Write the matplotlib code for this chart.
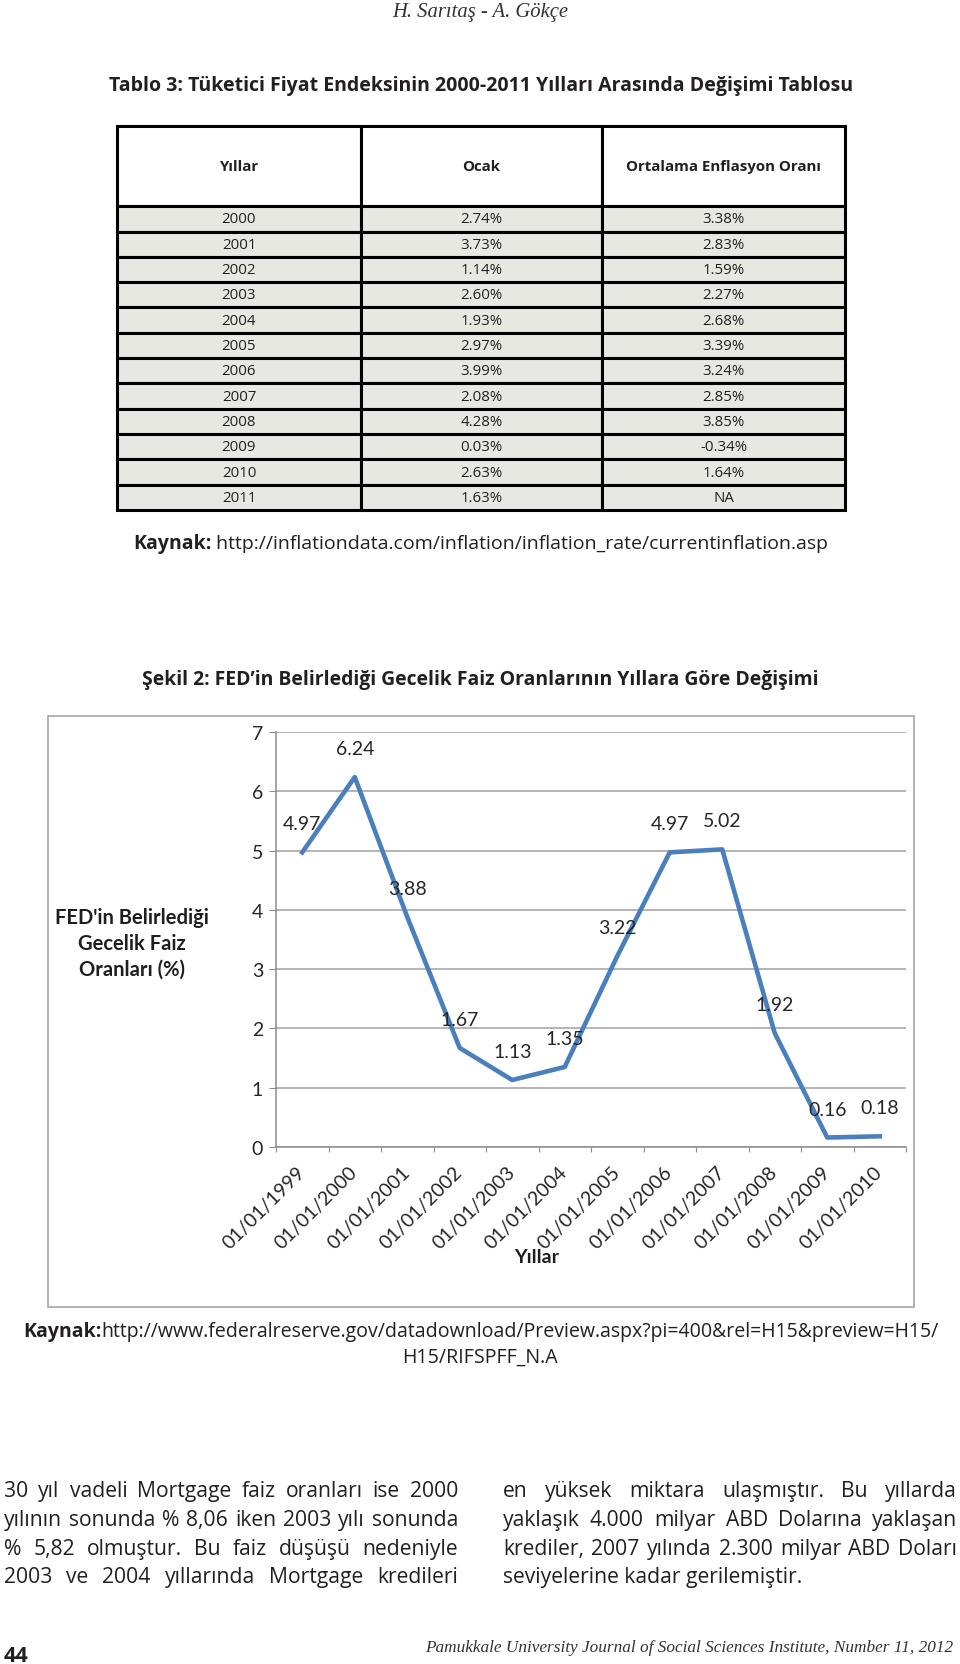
import matplotlib
matplotlib.use("Agg")
import matplotlib.pyplot as plt
from matplotlib.patches import Rectangle

# table 3 data
years = ["2000", "2001", "2002", "2003", "2004", "2005",
         "2006", "2007", "2008", "2009", "2010", "2011"]
ocak = ["2.74%", "3.73%", "1.14%", "2.60%", "1.93%", "2.97%",
        "3.99%", "2.08%", "4.28%", "0.03%", "2.63%", "1.63%"]
ortalama = ["3.38%", "2.83%", "1.59%", "2.27%", "2.68%", "3.39%",
            "3.24%", "2.85%", "3.85%", "-0.34%", "1.64%", "NA"]
headers = ["Yıllar", "Ocak", "Ortalama Enflasyon Oranı"]

# figure 2 data (FED overnight rates)
fed_dates = ["01/01/1999", "01/01/2000", "01/01/2001", "01/01/2002",
             "01/01/2003", "01/01/2004", "01/01/2005", "01/01/2006",
             "01/01/2007", "01/01/2008", "01/01/2009", "01/01/2010"]
fed_rates = [4.97, 6.24, 3.88, 1.67, 1.13, 1.35, 3.22, 4.97, 5.02, 1.92, 0.16, 0.18]

left_col = ["30 yıl vadeli Mortgage faiz oranları ise 2000",
            "yılının sonunda % 8,06 iken 2003 yılı sonunda",
            "% 5,82 olmuştur. Bu faiz düşüşü nedeniyle",
            "2003 ve 2004 yıllarında Mortgage kredileri"]
right_col = ["en yüksek miktara ulaşmıştır. Bu yıllarda",
             "yaklaşık 4.000 milyar ABD Dolarına yaklaşan",
             "krediler, 2007 yılında 2.300 milyar ABD Doları",
             "seviyelerine kadar gerilemiştir."]

SANS = ["Open Sans", "DejaVu Sans"]
SERIF = ["Liberation Serif", "DejaVu Serif"]
CHART = ["Lato", "DejaVu Sans"]
INK = "#231f20"
CHART_INK = "#262626"

W, H = 960, 1665
fig = plt.figure(figsize=(W / 100, H / 100), dpi=100)
pg = fig.add_axes([0, 0, 1, 1])
pg.set_xlim(0, W)
pg.set_ylim(H, 0)
pg.axis("off")
rend = fig.canvas.get_renderer()


def width(t):
    return t.get_window_extent(rend).width


def fit_text(x0, x1, y, s, **kw):
    t = pg.text(x0, y, s, fontsize=10, va="baseline", **kw)
    t.set_fontsize(10 * (x1 - x0) / width(t))
    return t


def fit_pair(x0, x1, y, bold_s, reg_s, family):
    a = pg.text(x0, y, bold_s, fontsize=10, va="baseline", family=family,
                fontweight="bold", color=INK)
    b = pg.text(x0, y, reg_s, fontsize=10, va="baseline", family=family, color=INK)
    fs = 10 * (x1 - x0) / (width(a) + width(b))
    a.set_fontsize(fs)
    b.set_fontsize(fs)
    b.set_x(x0 + width(a))


def justify(x0, x1, y, line, fs):
    words = line.split()
    ts = [pg.text(x0, y, w, fontsize=fs, va="baseline", family=SANS, color=INK)
          for w in words]
    ws = [width(t) for t in ts]
    gap = (x1 - x0 - sum(ws)) / (len(words) - 1)
    x = x0
    for t, w in zip(ts, ws):
        t.set_x(x)
        x += w + gap


# page header and titles
fit_text(392, 568, 17, "H. Sarıtaş - A. Gökçe", family=SERIF, style="italic", color="#333333")
fit_text(109, 852, 91, "Tablo 3: Tüketici Fiyat Endeksinin 2000-2011 Yılları Arasında Değişimi Tablosu",
         family=SANS, fontweight="bold", color=INK)

# table 3
tax = fig.add_axes([117 / W, 1 - 511 / H, 728 / W, 384 / H])
tax.axis("off")
cell_text = [[y, o, e] for y, o, e in zip(years, ocak, ortalama)]
tbl = tax.table(cellText=cell_text, colLabels=headers, cellLoc="center",
                colWidths=[244, 241, 243], bbox=[0, 0, 1, 1])
tbl.auto_set_font_size(False)
for (r, c), cell in tbl.get_celld().items():
    cell.set_linewidth(2.2)
    cell.set_edgecolor("black")
    txt = cell.get_text()
    txt.set_fontsize(10.8)
    txt.set_fontfamily(SANS)
    txt.set_color(INK)
    if r == 0:
        cell.set_height(80)
        cell.set_facecolor("white")
        txt.set_fontweight("bold")
    else:
        cell.set_height(25.25)
        cell.set_facecolor("#e8e8e2")

fit_pair(133, 829, 549, "Kaynak:",
         " http://inflationdata.com/inflation/inflation_rate/currentinflation.asp", SANS)

fit_text(142, 821, 685, "Şekil 2: FED’in Belirlediği Gecelik Faiz Oranlarının Yıllara Göre Değişimi",
         family=SANS, fontweight="bold", color=INK)

# chart frame
pg.add_patch(Rectangle((48, 717), 866, 591, facecolor="white", edgecolor="#a6a6a6", lw=1.2))

ax = fig.add_axes([276 / W, 1 - 1148 / H, 630 / W, 415 / H])
ax.set_facecolor("none")
xs = [i + 0.5 for i in range(len(fed_rates))]
ax.plot(xs, fed_rates, color="#4a7fbd", lw=3.3, solid_joinstyle="round", zorder=3)
for x, v in zip(xs, fed_rates):
    ax.annotate(f"{v:.2f}", (x, v), xytext=(0, 20.5), textcoords="offset points",
                ha="center", va="center", fontsize=14, family=CHART, color=CHART_INK, zorder=4)

ax.set_xlim(0, len(fed_rates))
ax.set_ylim(0, 7)
ax.set_yticks(range(0, 8))
ax.yaxis.grid(True, color="#a0a0a0", lw=1.1)
ax.set_axisbelow(True)
for s in ["top", "right"]:
    ax.spines[s].set_visible(False)
for s in ["left", "bottom"]:
    ax.spines[s].set_color("#8c8c8c")
    ax.spines[s].set_linewidth(1.1)
ax.set_xticks(range(0, len(fed_rates) + 1))
ax.set_xticklabels([])
ax.set_xticks(xs, minor=True)
ax.set_xticklabels(fed_dates, minor=True, rotation=45, ha="right", va="center",
                   rotation_mode="anchor", fontsize=14, family=CHART, color=CHART_INK)
ax.tick_params(axis="x", which="major", length=3.6, color="#8c8c8c", direction="out")
ax.tick_params(axis="x", which="minor", length=0, pad=16)
ax.tick_params(axis="y", length=5, color="#8c8c8c", pad=4.3, labelsize=14, labelcolor=CHART_INK)
for t in ax.get_yticklabels():
    t.set_family(CHART)

pg.text(132, 944, "FED'in Belirlediği\nGecelik Faiz\nOranları (%)", ha="center", va="center",
        fontsize=14.5, family=CHART, fontweight="bold", color="#1e1e1e", linespacing=1.35)
pg.text(537, 1258, "Yıllar", ha="center", va="center", fontsize=14, family=CHART,
        fontweight="bold", color="#1e1e1e")

fit_pair(23, 938, 1337, "Kaynak:",
         "http://www.federalreserve.gov/datadownload/Preview.aspx?pi=400&rel=H15&preview=H15/", SANS)
src2 = pg.text(480, 1363, "H15/RIFSPFF_N.A", ha="center", va="baseline", family=SANS, color=INK)

# body text, two justified columns
probe = pg.text(0, 0, right_col[-1], fontsize=10, family=SANS)
body_fs = 10 * 300 / width(probe)
probe.remove()
src2.set_fontsize(body_fs * 0.93)
baselines = [1497, 1526, 1555, 1583]
for y, line in zip(baselines, left_col):
    justify(4, 458, y, line, body_fs)
for y, line in zip(baselines[:-1], right_col[:-1]):
    justify(503, 957, y, line, body_fs)
pg.text(503, baselines[-1], right_col[-1], fontsize=body_fs, va="baseline", family=SANS, color=INK)

# footer
pg.text(4, 1662, "44", fontsize=15.5, va="baseline", family=SANS, fontweight="bold", color=INK)
fit_text(425, 955, 1652, "Pamukkale University Journal of Social Sciences Institute, Number 11, 2012",
         family=SERIF, style="italic", color="#333333")

fig.savefig("out.png", dpi=100)
plt.close()
